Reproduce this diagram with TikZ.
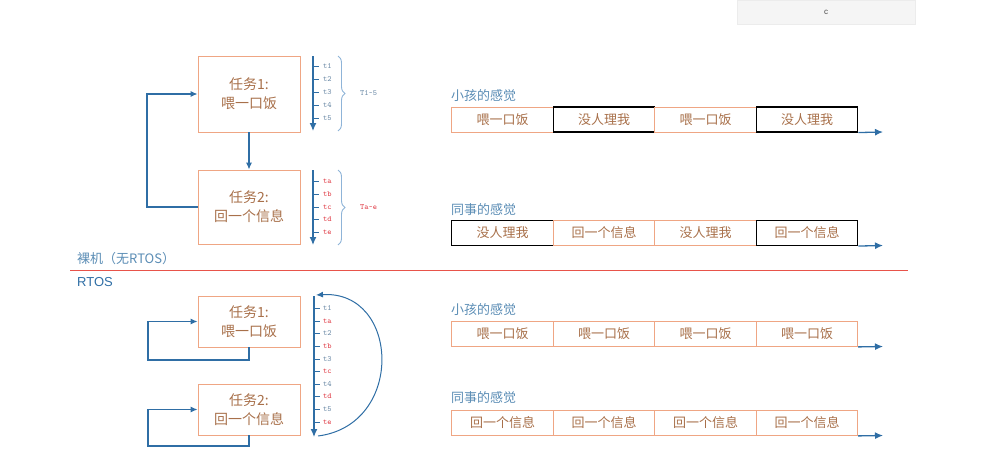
\documentclass[tikz,border=0pt]{standalone}
\usepackage{fontspec}
\setmainfont{Liberation Sans}
\newfontfamily\cjk{Noto Sans CJK SC}
\usetikzlibrary{arrows.meta,decorations.pathreplacing}
\definecolor{boxor}{HTML}{EFA684}
\definecolor{txtbr}{HTML}{A8704A}
\definecolor{flowblue}{HTML}{2F6EA5}
\definecolor{labblue}{HTML}{5B8DB5}
\definecolor{tgray}{HTML}{6E8CA8}
\definecolor{tred}{HTML}{E0404A}
\definecolor{divred}{HTML}{E8534A}
\definecolor{bracec}{HTML}{8FB4D8}
\begin{document}
\begin{tikzpicture}[x=1pt,y=-1pt,
  task/.style={draw=boxor, line width=0.8pt, minimum width=102pt, text=txtbr,
    font=\cjk\fontsize{14}{19}\selectfont, align=center, inner sep=0pt},
  cellO/.style={draw=boxor, line width=0.8pt, minimum width=101.5pt, minimum height=25pt,
    inner sep=0pt, font=\cjk\fontsize{13}{15}\selectfont, text=txtbr},
  cellK/.style={cellO, draw=black, line width=1.1pt},
  flow/.style={draw=flowblue, line width=1.2pt, -{Latex[length=7pt,width=6pt]}},
  tl/.style={draw=flowblue, line width=1.2pt, -{Latex[length=8pt,width=7pt]}},
  tick/.style={draw=flowblue, line width=1pt},
  tlab/.style={anchor=west, inner sep=0pt, font=\ttfamily\fontsize{8}{9}\selectfont},
  sense/.style={anchor=west, inner sep=0pt, text=labblue, font=\cjk\fontsize{13}{15}\selectfont},
  brc/.style={draw=bracec, line width=0.9pt, decorate, decoration={brace, amplitude=7pt}},
  rowarr/.style={draw=flowblue, line width=1.3pt, -{Latex[length=8pt,width=7pt]}}
]
\useasboundingbox (0,0) rectangle (996,471);

% top-right UI box
\node[fill=gray!8, draw=gray!15, minimum width=178pt, minimum height=24pt, inner sep=0pt,
  font=\fontsize{8}{9}\selectfont, text=black!70] (cbox) at (826,12) {c};

% ---------------- bare metal ----------------
\node[task, minimum height=76pt] (t1) at (249,94) {任务1:\\喂一口饭};
\node[task, minimum height=74pt] (t2) at (249,207) {任务2:\\回一个信息};
\draw[flow] (t1) -- (t2);
\coordinate (lpa) at (147,207);
\draw[flow] (t2.west) -- (lpa) |- (t1.west);

% time axis 1
\coordinate (a1t) at (313,56);
\coordinate (a1b) at (313,131);
\draw[tl] (a1t) -- (a1b);
\foreach \y/\l in {66/t1,79/t2,92/t3,105/t4,118/t5}{
  \draw[tick] (313,\y) -- (319,\y);
  \node[tlab, text=tgray] at (323,\y) {\l};
}
\coordinate (b1a) at (338,56);
\coordinate (b1b) at (338,131);
\draw[brc] (b1a) -- (b1b);
\node[tlab, text=tgray] (T1) at (360,93) {T1\textasciitilde5};

% time axis 2
\coordinate (a2t) at (313,170);
\coordinate (a2b) at (313,245);
\draw[tl] (a2t) -- (a2b);
\foreach \y/\l in {181/ta,194/tb,207/tc,219/td,232/te}{
  \draw[tick] (313,\y) -- (319,\y);
  \node[tlab, text=tred] at (323,\y) {\l};
}
\coordinate (b2a) at (338,170);
\coordinate (b2b) at (338,245);
\draw[brc] (b2a) -- (b2b);
\node[tlab, text=tred] (T2) at (360,207) {Ta\textasciitilde e};

% ---------------- divider ----------------
\node[anchor=west, inner sep=0pt, text=labblue, font=\cjk\fontsize{13}{15}\selectfont] (bare) at (77,259) {裸机（无RTOS）};
\coordinate (dl) at (70,270.5);
\coordinate (dr) at (908,270.5);
\draw[divred, line width=1.5pt] (dl) -- (dr);
\node[anchor=west, inner sep=0pt, text=flowblue, font=\fontsize{13}{15}\selectfont] (rtos) at (77,282) {RTOS};

% ---------------- RTOS ----------------
\node[task, minimum height=51pt] (b1) at (249,321.5) {任务1:\\喂一口饭};
\node[task, minimum height=51pt] (b2) at (249,409.5) {任务2:\\回一个信息};
\coordinate (lp1) at (148,360);
\coordinate (lp2) at (148,446);
\draw[flow] (b1.south) |- (lp1) |- (b1.west);
\draw[flow] (b2.south) |- (lp2) |- (b2.west);

\coordinate (a3t) at (314,296);
\coordinate (a3b) at (314,437);
\draw[tl] (a3t) -- (a3b);
\foreach \y/\l/\c in {308/t1/tgray,321/ta/tred,333/t2/tgray,346/tb/tred,359/t3/tgray,371/tc/tred,384/t4/tgray,396/td/tred,409/t5/tgray,422/te/tred}{
  \draw[tick] (314,\y) -- (320,\y);
  \node[tlab, text=\c] at (323,\y) {\l};
}
\coordinate (cvs) at (318,436);
\coordinate (cve) at (316,295);
\draw[flow, line width=1pt] (cvs) .. controls (405,425) and (400,290) .. (cve);

% ---------------- right: feelings ----------------
\node[sense] (s1) at (451,96) {小孩的感觉};
\node[cellO] (r1a) at (502.5,119.5) {喂一口饭};
\node[cellK] (r1b) at (604,119.5) {没人理我};
\node[cellO] (r1c) at (705.5,119.5) {喂一口饭};
\node[cellK] (r1d) at (807,119.5) {没人理我};
\coordinate (e1) at (883,132);
\draw[rowarr] (r1d.south east) -- (e1);

\node[sense] (s2) at (451,210) {同事的感觉};
\node[cellK] (r2a) at (502.5,233) {没人理我};
\node[cellO] (r2b) at (604,233) {回一个信息};
\node[cellO] (r2c) at (705.5,233) {没人理我};
\node[cellK] (r2d) at (807,233) {回一个信息};
\coordinate (e2) at (883,245.5);
\draw[rowarr] (r2d.south east) -- (e2);

\node[sense] (s3) at (451,310) {小孩的感觉};
\node[cellO] (r3a) at (502.5,334) {喂一口饭};
\node[cellO] (r3b) at (604,334) {喂一口饭};
\node[cellO] (r3c) at (705.5,334) {喂一口饭};
\node[cellO] (r3d) at (807,334) {喂一口饭};
\coordinate (e3) at (883,346.5);
\draw[rowarr] (r3d.south east) -- (e3);

\node[sense] (s4) at (451,398) {同事的感觉};
\node[cellO] (r4a) at (502.5,423) {回一个信息};
\node[cellO] (r4b) at (604,423) {回一个信息};
\node[cellO] (r4c) at (705.5,423) {回一个信息};
\node[cellO] (r4d) at (807,423) {回一个信息};
\coordinate (e4) at (883,435.5);
\draw[rowarr] (r4d.south east) -- (e4);
\end{tikzpicture}
\end{document}
